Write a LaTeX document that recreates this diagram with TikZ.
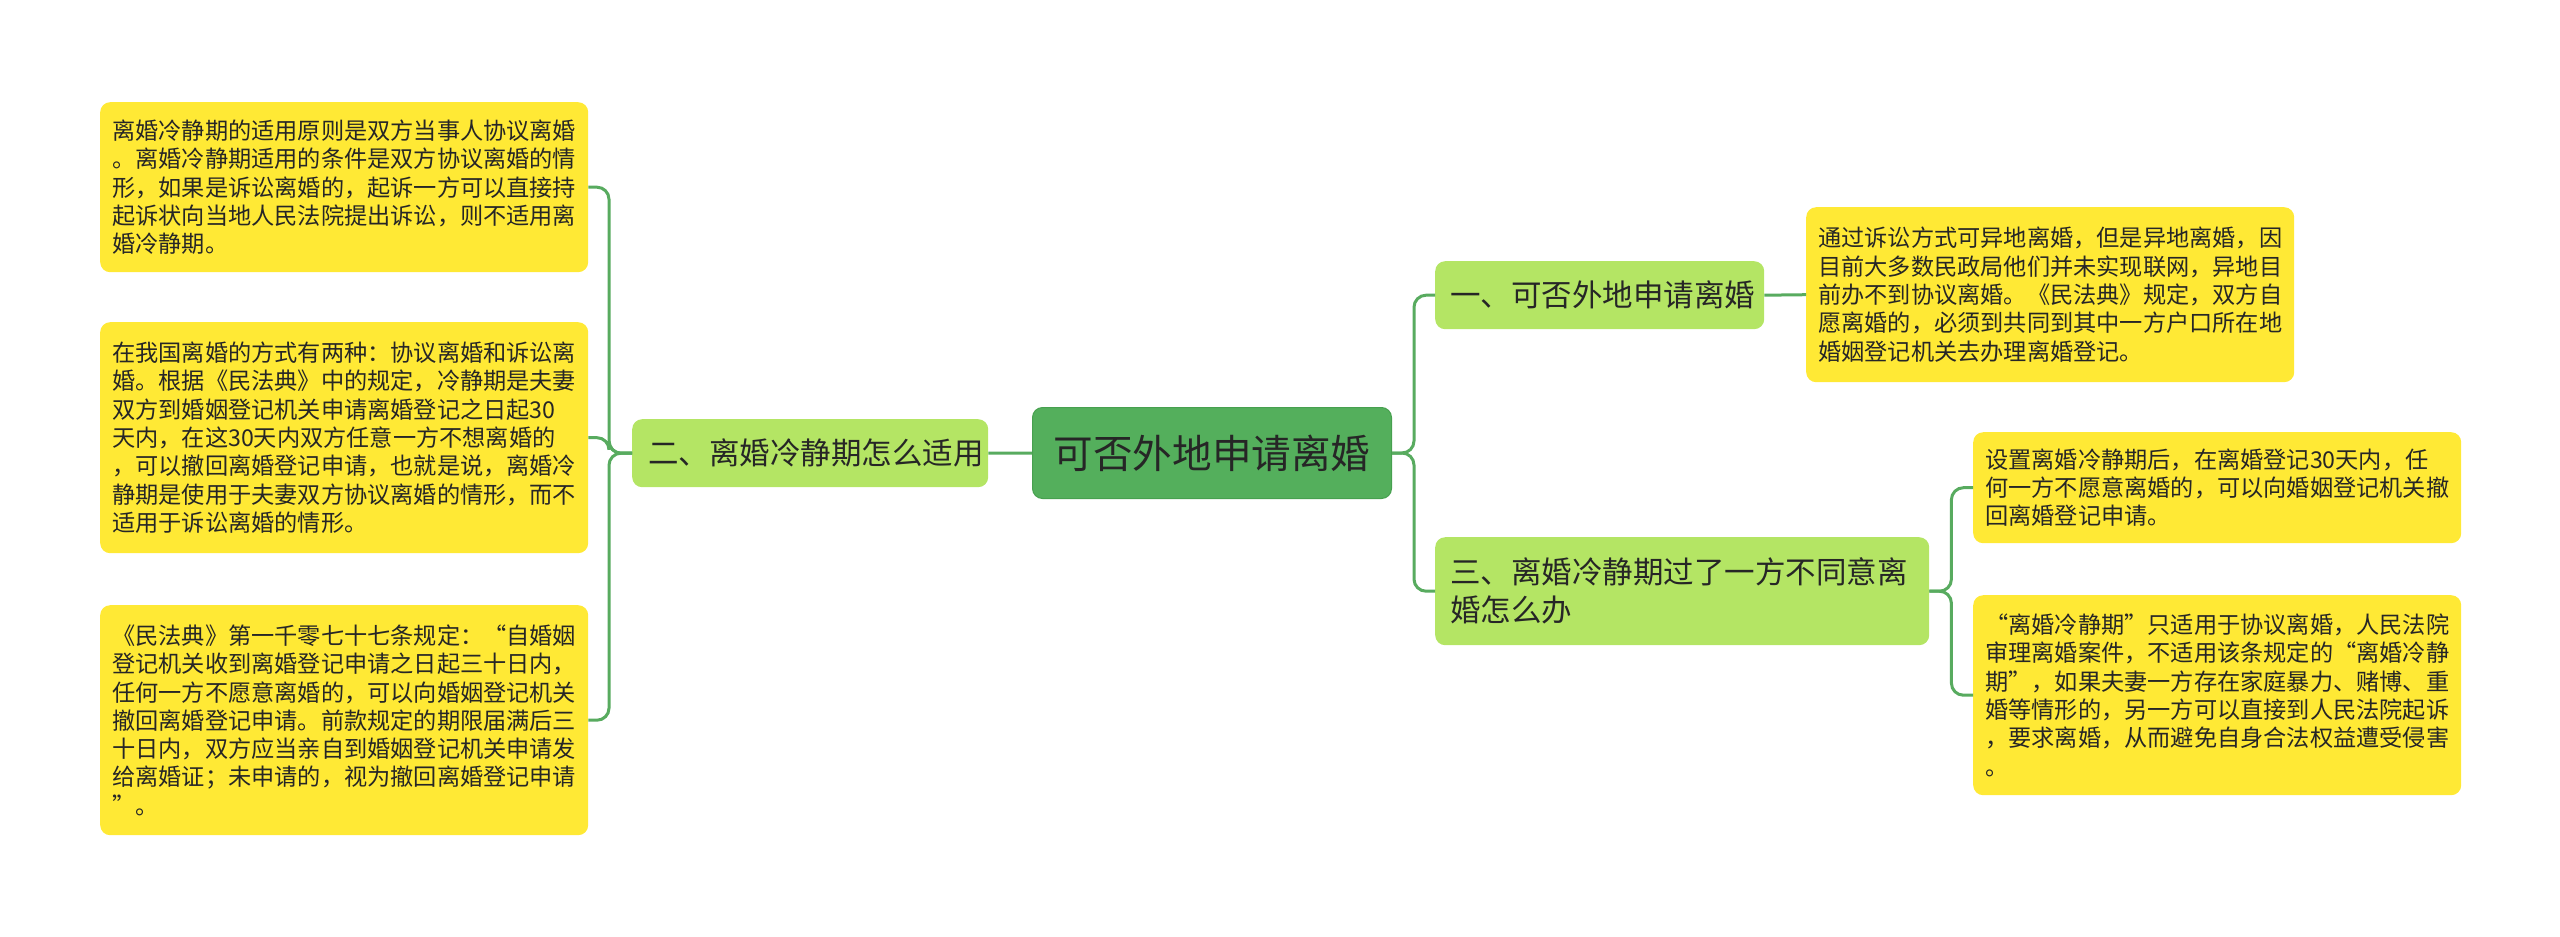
\documentclass[tikz,border=0pt]{standalone}
\usepackage{fontspec}
\newfontfamily\cjk{Noto Sans CJK SC}
\definecolor{cfill}{HTML}{54AF5C}
\definecolor{cborder}{HTML}{47A04F}
\definecolor{lgreen}{HTML}{B4E564}
\definecolor{yel}{HTML}{FFE935}
\definecolor{conn}{HTML}{58AB5F}
\definecolor{txt}{HTML}{262626}
\begin{document}
\begin{tikzpicture}[x=1pt,y=-1pt,
  base/.style={anchor=north west, rounded corners=10pt, inner ysep=0pt, text=txt},
  detail/.style={base, fill=yel, inner xsep=12pt, text width=464pt, align=left,
    font=\cjk\fontsize{23.2}{28.3}\selectfont},
  lvl/.style={base, fill=lgreen, align=left, font=\cjk\fontsize{30.5}{38}\selectfont},
  root/.style={base, fill=cfill, draw=cborder, line width=1pt, align=center,
    inner xsep=0pt, font=\cjk\fontsize{39.6}{46}\selectfont},
  conn/.style={draw=conn, line width=3pt, rounded corners=12pt}
]
\useasboundingbox (0,0) rectangle (2560,937);

% root
\node[root, minimum width=359pt, minimum height=91pt, text width=359pt] (c) at (1032,407) {可否外地申请离婚};

% level 1
\node[lvl, inner xsep=16pt, text width=324pt, minimum height=68pt] (n2) at (632,419) {二、离婚冷静期怎么适用};
\node[lvl, inner xsep=15pt, text width=299pt, minimum height=68pt] (n1) at (1435,261) {一、可否外地申请离婚};
\node[lvl, inner xsep=15pt, text width=464pt, minimum height=108pt] (n3) at (1435,537) {三、离婚冷静期过了一方不同意离\\婚怎么办};

% left details
\node[detail, minimum height=170pt] (L1) at (100,102) {离婚冷静期的适用原则是双方当事人协议离婚\\。离婚冷静期适用的条件是双方协议离婚的情\\形，如果是诉讼离婚的，起诉一方可以直接持\\起诉状向当地人民法院提出诉讼，则不适用离\\婚冷静期。};
\node[detail, minimum height=231pt] (L2) at (100,322) {在我国离婚的方式有两种：协议离婚和诉讼离\\婚。根据《民法典》中的规定，冷静期是夫妻\\双方到婚姻登记机关申请离婚登记之日起30\\天内，在这30天内双方任意一方不想离婚的\\，可以撤回离婚登记申请，也就是说，离婚冷\\静期是使用于夫妻双方协议离婚的情形，而不\\适用于诉讼离婚的情形。};
\node[detail, minimum height=230pt] (L3) at (100,605) {《民法典》第一千零七十七条规定：“自婚姻\\登记机关收到离婚登记申请之日起三十日内，\\任何一方不愿意离婚的，可以向婚姻登记机关\\撤回离婚登记申请。前款规定的期限届满后三\\十日内，双方应当亲自到婚姻登记机关申请发\\给离婚证；未申请的，视为撤回离婚登记申请\\”。};

% right details
\node[detail, minimum height=175pt] (R1) at (1806,207) {通过诉讼方式可异地离婚，但是异地离婚，因\\目前大多数民政局他们并未实现联网，异地目\\前办不到协议离婚。《民法典》规定，双方自\\愿离婚的，必须到共同到其中一方户口所在地\\婚姻登记机关去办理离婚登记。};
\node[detail, minimum height=111pt] (R3a) at (1973,432) {设置离婚冷静期后，在离婚登记30天内，任\\何一方不愿意离婚的，可以向婚姻登记机关撤\\回离婚登记申请。};
\node[detail, minimum height=200pt] (R3b) at (1973,595) {“离婚冷静期”只适用于协议离婚，人民法院\\审理离婚案件，不适用该条规定的“离婚冷静\\期”，如果夫妻一方存在家庭暴力、赌博、重\\婚等情形的，另一方可以直接到人民法院起诉\\，要求离婚，从而避免自身合法权益遭受侵害\\。};

% connectors
\draw[conn] (c.west) -- (n2.east);
\draw[conn] (n2.west) -- ++(-23,0) |- (L1.east);
\draw[conn] (n2.west) -- ++(-23,0) |- (L2.east);
\draw[conn] (n2.west) -- ++(-23,0) |- (L3.east);
\draw[conn] (c.east) -- ++(22,0) |- (n1.west);
\draw[conn] (c.east) -- ++(22,0) |- (n3.west);
\draw[conn] (n1.east) -- (R1.west);
\draw[conn] (n3.east) -- ++(22,0) |- (R3a.west);
\draw[conn] (n3.east) -- ++(22,0) |- (R3b.west);
\end{tikzpicture}
\end{document}
